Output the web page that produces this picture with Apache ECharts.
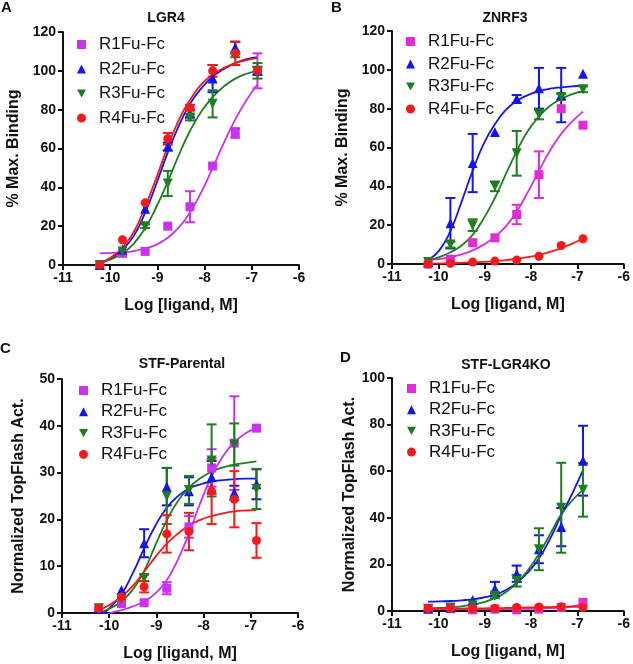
<!DOCTYPE html>
<html>
<head>
<meta charset="utf-8">
<script src="https://cdn.jsdelivr.net/npm/echarts@6/dist/echarts.min.js"></script>
<style>
  html, body { margin: 0; padding: 0; background: #fff; }
  #chart { width: 633px; height: 664px; }
</style>
</head>
<body>
<div id="chart"></div>
<script>
// log concentrations of the dilution series (M)
const logDose = [-10.22, -9.74, -9.26, -8.78, -8.31, -7.83, -7.35, -6.88]
const fitX = [-10.22, -9.98, -9.74, -9.5, -9.26, -9.02, -8.78, -8.54, -8.31, -8.07, -7.83, -7.59, -7.35, -7.11, -6.88]

const names = ['R1Fu-Fc', 'R2Fu-Fc', 'R3Fu-Fc', 'R4Fu-Fc']
const panelTitles = ['LGR4', 'ZNRF3', 'STF-Parental', 'STF-LGR4KO']
const panelLetters = ['A', 'B', 'C', 'D']
const yNames = ['% Max. Binding', '% Max. Binding', 'Normalized TopFlash Act.', 'Normalized TopFlash Act.']
const yMax = [120, 120, 50, 100]
const yStep = [20, 20, 10, 20]

// A: LGR4 binding
const lgr4Mean = [
  [0, 6, 7, 20, 30, 51, 68, 100],
  [0, 8, 29, 61, 78, 96, 112, 100],
  [0, 7, 20, 42, 76, 83, 108, 100],
  [0, 13, 32, 65, 81, 100, 109, 100]
]
const lgr4Err = [
  [0, 0, 0, 0, 8, 0, 2.5, 9],
  [0, 0, 0, 2, 2, 7, 3, 2],
  [0, 0, 1, 6.5, 1.5, 7, 1, 4],
  [0, 0, 0, 3, 1.5, 3, 6, 0]
]
const lgr4Fit = [
  [6, 6.2, 6.5, 7.2, 8.5, 10.5, 14, 19.5, 27, 37.5, 50, 63, 75, 85, 93],
  [1, 3.5, 8, 15, 27, 42, 58, 72, 83, 91, 97, 101, 104, 106, 107],
  [1, 3, 6, 11, 19, 30, 43, 57, 69, 79, 86.5, 92, 96, 98.5, 100],
  [1, 4, 9, 17, 30, 45, 61, 75, 85, 93, 98, 101.5, 104, 105.5, 106.5]
]

// B: ZNRF3 binding
const znrf3Mean = [
  [0, 2.5, 11, 13.5, 25.5, 46, 80, 71.5],
  [1, 21, 52, 68, 85, 90.5, 87, 98],
  [1, 10, 20, 40, 57, 77, 86, 90],
  [0, 0.3, 1, 1.5, 2, 4, 9.5, 13]
]
const znrf3Err = [
  [0, 0, 0, 0, 5, 12, 0, 0],
  [0, 13, 15, 0, 2, 10.5, 14, 0],
  [0, 1.5, 3, 2.5, 11.5, 2.5, 1.5, 1.5],
  [0, 0, 0, 0, 0, 0, 0, 0]
]
const znrf3Fit = [
  [2, 2.5, 3.5, 5, 7, 10, 14, 19.5, 27, 37, 48, 58.5, 67, 73.5, 78.5],
  [2, 7, 17, 32, 48, 62, 72, 79.5, 84, 87, 89, 90.3, 91, 91.5, 91.8],
  [2, 3.5, 6, 9.5, 15, 23.5, 34, 46.5, 58, 68.5, 76, 81.5, 85, 87.5, 89],
  [0.2, 0.3, 0.4, 0.6, 0.8, 1.1, 1.5, 2, 2.7, 3.5, 4.7, 6.2, 8.2, 10.5, 13]
]

// C: STF parental cells
const parentalMean = [
  [1, 2, 2.2, 5.3, 18.4, 31, 36.3, 39.5],
  [1, 4.9, 14.9, 27, 26, 29, 25.7, 27.5],
  [1, 3, 7.5, 25, 26.3, 32.6, 36, 26.5],
  [1, 3.4, 5.6, 16.9, 17.4, 26, 24.3, 15.5]
]
const parentalErr = [
  [0, 0, 0, 1.3, 2.3, 4, 10, 0],
  [0, 0, 3, 4, 3, 3.5, 1.5, 3.2],
  [0, 0, 0.7, 6, 3, 7.7, 4.5, 4.3],
  [0, 0, 1.2, 4, 4, 7, 6, 3.7]
]
const parentalFit = [
  [-1, 0, 0.6, 1.4, 2.5, 4.2, 7, 11.5, 17, 23.5, 29.2, 33.5, 36.5, 38.4, 39.5],
  [-1, 1.2, 4, 8.5, 13.8, 18.7, 22.5, 25, 26.6, 27.5, 28.1, 28.4, 28.6, 28.7, 28.7],
  [0, 1, 2.5, 5, 9, 14.5, 19.8, 24, 26.8, 28.8, 30.2, 31.1, 31.7, 32.1, 32.4],
  [0.5, 1.8, 3.5, 5.8, 8.8, 12, 14.8, 17, 18.7, 19.9, 20.7, 21.3, 21.7, 21.9, 22]
]

// D: STF LGR4 knockout cells
const lgr4koMean = [
  [1, 1, 0.5, 0.8, 0.5, 0.8, 1.5, 3.7],
  [1, 1.5, 4.7, 9.5, 16, 26.5, 36, 64.5],
  [1, 1.5, 2.5, 6.5, 13, 26.5, 44.3, 52],
  [1.2, 1.2, 1, 1.2, 1.5, 1.7, 1.8, 1.5]
]
const lgr4koErr = [
  [0, 0, 0, 0, 0, 0, 0, 0],
  [0, 0, 0, 3, 3.5, 6, 8.2, 15],
  [0, 0, 0, 1, 2.5, 9, 19.3, 11.5],
  [0, 0, 0, 0, 0, 0, 0, 0]
]
const lgr4koFit = [
  [0.8, 0.8, 0.8, 0.8, 0.8, 0.8, 0.8, 0.8, 0.85, 0.9, 1, 1.2, 1.5, 2.1, 3],
  [4, 4.1, 4.3, 4.6, 5, 5.8, 7, 9, 12, 16.5, 22.5, 31, 41, 50.5, 60.5],
  [1.2, 1.3, 1.5, 2, 2.7, 3.8, 5.5, 8.2, 12, 17.5, 24.5, 33, 41.5, 47.5, 52],
  [1, 1, 1, 1.05, 1.1, 1.15, 1.2, 1.3, 1.4, 1.5, 1.6, 1.7, 1.75, 1.8, 1.85]
]

const means = [lgr4Mean, znrf3Mean, parentalMean, lgr4koMean]
const errs = [lgr4Err, znrf3Err, parentalErr, lgr4koErr]
const fits = [lgr4Fit, znrf3Fit, parentalFit, lgr4koFit]

const violet = '#c832f0'
const magenta = '#e02cd2'
const blue = '#1414f0'
const green = '#1e7d1e'
const red = '#f51a1a'
const colors = [
  [violet, blue, green, red],
  [magenta, blue, green, red],
  [violet, blue, green, red],
  [magenta, blue, green, red]
]
const downTri = 'path://M0,0 L10,0 L5,9 Z'
const symbols = ['rect', 'triangle', downTri, 'circle']
const symbolSizes = [9, 10, 10, 9]

const font = 'Liberation Sans, Arial, sans-serif'

const grids = [
  { left: 63, top: 32, width: 236, height: 233 },
  { left: 392, top: 31, width: 235, height: 233 },
  { left: 62, top: 379, width: 236, height: 234 },
  { left: 392, top: 378, width: 234, height: 233 }
]
const yNameGap = [41, 41, 35, 24]
// legend box position and row gap per panel
const legendPos = [[72, 31], [401, 28], [74, 377], [402, 375]]
const legendGap = [7.5, 5.5, 4.3, 4.2]
const titlePos = [[166, 18], [505, 18], [182, 364], [506, 365]]
const letterPos = [[1, 8], [331, 8], [0, 349], [340, 358]]

function renderErrorBar(params, api) {
  const x = api.value(0)
  const top = api.coord([x, api.value(2)])
  const bot = api.coord([x, api.value(1)])
  const w = 5
  const style = { stroke: api.visual('color'), lineWidth: 2 }
  return {
    type: 'group',
    children: [
      { type: 'line', shape: { x1: top[0], y1: top[1], x2: bot[0], y2: bot[1] }, style },
      { type: 'line', shape: { x1: top[0] - w, y1: top[1], x2: top[0] + w, y2: top[1] }, style },
      { type: 'line', shape: { x1: bot[0] - w, y1: bot[1], x2: bot[0] + w, y2: bot[1] }, style }
    ]
  }
}

const xAxes = grids.map((g, p) => ({
  type: 'value',
  gridIndex: p,
  min: -11,
  max: -6,
  interval: 1,
  name: 'Log [ligand, M]',
  nameLocation: 'middle',
  nameGap: 33,
  nameTextStyle: { fontFamily: font, fontWeight: 'bold', fontSize: 16, color: '#111' },
  axisLine: { onZero: false, lineStyle: { color: '#111', width: 2 } },
  axisTick: { length: 5, lineStyle: { color: '#111', width: 2 } },
  axisLabel: { fontFamily: font, fontWeight: 'bold', fontSize: 14, color: '#111', margin: 6 },
  splitLine: { show: false }
}))

const yAxes = grids.map((g, p) => ({
  type: 'value',
  gridIndex: p,
  min: 0,
  max: yMax[p],
  interval: yStep[p],
  name: yNames[p],
  nameLocation: 'middle',
  nameGap: yNameGap[p],
  nameTextStyle: { fontFamily: font, fontWeight: 'bold', fontSize: 16, color: '#111' },
  axisLine: { show: true, onZero: false, lineStyle: { color: '#111', width: 2 } },
  axisTick: { show: true, length: 5, lineStyle: { color: '#111', width: 2 } },
  axisLabel: { fontFamily: font, fontWeight: 'bold', fontSize: 14, color: '#111', margin: 7 },
  splitLine: { show: false }
}))

const series = []
for (let p = 0; p < 4; p++) {
  for (let s = 0; s < 4; s++) {
    const color = colors[p][s]
    series.push({
      name: names[s],
      type: 'line',
      xAxisIndex: p,
      yAxisIndex: p,
      data: fitX.map((x, i) => [x, fits[p][s][i]]),
      smooth: true,
      showSymbol: false,
      clip: true,
      lineStyle: { color, width: 1.8 },
      itemStyle: { color },
      z: 2,
      silent: true
    })
    series.push({
      name: names[s],
      type: 'custom',
      xAxisIndex: p,
      yAxisIndex: p,
      renderItem: renderErrorBar,
      data: logDose
        .map((x, i) => [x, means[p][s][i] - errs[p][s][i], means[p][s][i] + errs[p][s][i], errs[p][s][i]])
        .filter(d => d[3] > 0),
      itemStyle: { color },
      z: 3,
      silent: true
    })
    series.push({
      name: names[s],
      type: 'scatter',
      xAxisIndex: p,
      yAxisIndex: p,
      data: logDose.map((x, i) => [x, means[p][s][i]]),
      symbol: symbols[s],
      symbolSize: symbolSizes[s],
      itemStyle: { color, opacity: 1 },
      z: 4
    })
  }
}

const legends = legendPos.map((pos, p) => ({
  orient: 'vertical',
  left: pos[0],
  top: pos[1],
  itemWidth: 9,
  itemHeight: 9,
  itemGap: legendGap[p],
  textStyle: { fontFamily: font, fontSize: 17, color: '#111', padding: [0, 0, 0, 8] },
  data: names.map((n, s) => ({ name: n, icon: symbols[s], itemStyle: { color: colors[p][s] } }))
}))

const graphics = []
panelTitles.forEach((t, p) => {
  graphics.push({
    type: 'text',
    x: titlePos[p][0],
    y: titlePos[p][1],
    style: { text: t, fontFamily: font, fontWeight: 'bold', fontSize: 14, fill: '#111', textAlign: 'center', textVerticalAlign: 'middle' }
  })
  graphics.push({
    type: 'text',
    x: letterPos[p][0],
    y: letterPos[p][1],
    style: { text: panelLetters[p], fontFamily: font, fontWeight: 'bold', fontSize: 15, fill: '#111', textAlign: 'left', textVerticalAlign: 'middle' }
  })
})

const chart = echarts.init(document.getElementById('chart'), null, { renderer: 'canvas' })
chart.setOption({
  animation: false,
  backgroundColor: '#fff',
  grid: grids,
  xAxis: xAxes,
  yAxis: yAxes,
  legend: legends,
  graphic: graphics,
  series
})
</script>
</body>
</html>
